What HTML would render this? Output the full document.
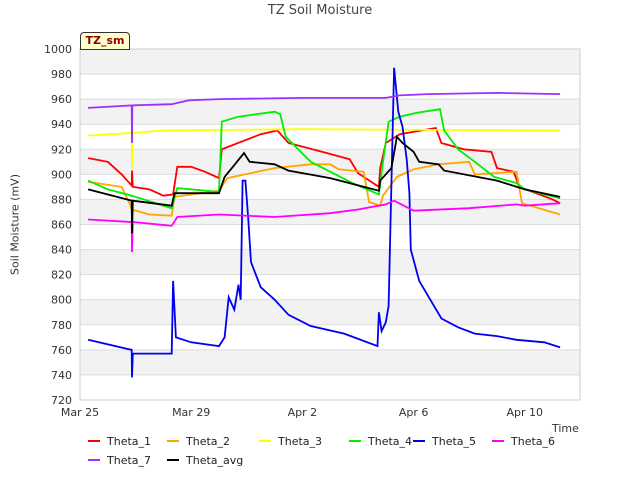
<!DOCTYPE html>
<html><head><meta charset="utf-8"><style>
body{margin:0;background:#fff;font-family:"Liberation Sans","DejaVu Sans",sans-serif}
svg text{font-family:"DejaVu Sans","Liberation Sans",sans-serif}
</style></head><body>
<svg id="c" width="640" height="480" viewBox="0 0 640 480"></svg>
<script>
const yTicks=[720,740,760,780,800,820,840,860,880,900,920,940,960,980,1000];
const xTickDays=[0,4,8,12,16];
const xTickLabels=["Mar 25","Mar 29","Apr 2","Apr 6","Apr 10"];
const seriesNames=["Theta_1","Theta_2","Theta_3","Theta_4","Theta_5","Theta_6","Theta_7","Theta_avg"];
const seriesColors=["#ff0000","#ffa500","#ffff00","#00ee00","#0000ee","#ff00ff","#9b30ff","#000000"];
const theta1=[[0.29,913],[1,910],[1.5,900],[1.86,891],[1.87,903],[1.9,890],[2.5,888],[3.0,883],[3.35,884],[3.5,906],[4,906],[4.5,902],[5.0,897],[5.1,920],[6.5,932],[7.1,935],[7.5,925],[8.7,918],[9.7,912],[10,901],[10.75,890],[10.8,905],[11.0,925],[11.5,932],[12.8,937],[13.0,925],[13.8,920],[14.8,918],[15.0,905],[15.6,902],[15.8,890],[17,880],[17.27,877]];
const theta2=[[0.29,894],[1.5,890],[1.8,876],[1.86,872],[2.5,868],[3.3,867],[3.4,882],[5,887],[5.3,897],[7,905],[8.3,908],[9.0,908],[9.3,904],[10.2,902],[10.4,878],[10.8,875],[10.9,883],[11.4,898],[12,904],[12.9,908],[14.0,910],[14.2,900],[15.7,902],[15.9,877],[17.27,868]];
const theta3=[[0.29,931],[1.86,933],[1.87,905],[1.88,933],[3,935],[8,936],[17.27,935]];
const theta4=[[0.29,895],[1,888],[1.86,883],[3.3,873],[3.5,889],[5.0,886],[5.1,942],[5.7,946],[7.0,950],[7.2,948],[7.4,930],[8.3,910],[9.8,893],[10.75,884],[10.9,910],[11.1,942],[11.5,946],[12.1,949],[12.95,952],[13.1,935],[13.6,920],[14.2,910],[14.9,898],[15.7,893],[16,888],[17.27,881]];
const theta5=[[0.29,768],[1.86,760],[1.87,738],[1.9,757],[3.3,757],[3.35,815],[3.45,770],[4,766],[5,763],[5.2,770],[5.35,802],[5.55,792],[5.7,812],[5.78,800],[5.85,895],[5.95,895],[6.05,865],[6.15,830],[6.5,810],[7,800],[7.5,788],[8.3,779],[9.5,773],[10.7,763],[10.75,790],[10.85,775],[11.0,782],[11.1,795],[11.3,985],[11.45,950],[11.6,938],[11.75,912],[11.85,885],[11.9,840],[12.2,815],[12.6,800],[13.0,785],[13.6,778],[14.2,773],[15.0,771],[15.7,768],[16.7,766],[17.27,762]];
const theta6=[[0.29,864],[1.86,862],[1.87,838],[1.9,862],[3.3,859],[3.5,866],[5,868],[7,866],[9,869],[10,872],[11,876],[11.3,879],[12.0,871],[14,873],[15.7,876],[16,875],[17.27,877]];
const theta7=[[0.29,953],[1.86,955],[1.87,925],[1.88,955],[3.3,956],[3.9,959],[5,960],[8,961],[11,961],[11.5,963],[12.5,964],[15,965],[17.27,964]];
const thetaAvg=[[0.29,888],[1.86,879],[1.87,853],[1.9,879],[3.3,875],[3.4,885],[5,885],[5.2,898],[5.5,906],[5.9,917],[6.1,910],[7,908],[7.5,903],[9,897],[10.75,887],[10.8,895],[11.2,905],[11.4,930],[11.6,925],[12.0,918],[12.2,910],[12.9,908],[13.1,903],[15.0,895],[16,888],[17.27,882]];
const allSeries=[theta1,theta2,theta3,theta4,theta5,theta6,theta7,thetaAvg];

const svg=document.getElementById('c');const NS='http://www.w3.org/2000/svg';
const L=80,R=580,T=49,B=400;
const xs=d=>L+d*27.8;
const ys=v=>B-(v-720)*(B-T)/280;
function mk(tag,attrs,parent){const e=document.createElementNS(NS,tag);for(const k in attrs)e.setAttribute(k,attrs[k]);(parent||svg).appendChild(e);return e;}
// bands
for(let i=0;i<yTicks.length-1;i++){
  if(i%2===1){const r=mk('rect',{x:L,y:ys(yTicks[i+1]),width:R-L,height:ys(yTicks[i])-ys(yTicks[i+1]),fill:'#f2f2f2'});
  
  }
}
yTicks.forEach(v=>{const g=mk('line',{x1:L,x2:R,y1:ys(v),y2:ys(v),stroke:'#dcdcdc','stroke-width':1});


const t=mk('text',{x:L-8,y:ys(v)+4,'text-anchor':'end','font-size':11,fill:'#333'});t.textContent=v;

});
const fr=mk('rect',{x:L,y:T,width:R-L,height:B-T,fill:'none',stroke:'#ccc'});


xTickDays.forEach((d,i)=>{const t=mk('text',{x:xs(d),y:B+16,'text-anchor':'middle','font-size':11,fill:'#333'});t.textContent=xTickLabels[i];

});
allSeries.forEach((s,i)=>{const p=mk('polyline',{points:s.map(q=>xs(q[0]).toFixed(1)+','+ys(q[1]).toFixed(1)).join(' '),fill:'none',stroke:seriesColors[i],'stroke-width':1.8});

});
// legend
const legPos=[[88,441],[167,441],[259,441],[349,441],[413,441],[492,441],[88,460],[167,460]];
seriesNames.forEach((n,i)=>{const [x,y]=legPos[i];const g=mk('g',{});


mk('line',{x1:x,x2:x+12,y1:y,y2:y,stroke:seriesColors[i],'stroke-width':2},g);
const t=mk('text',{x:x+19,y:y+4,'font-size':11,fill:'#222'},g);t.textContent=n;});
</script>
<div style="position:absolute;left:0;top:3px;width:640px;text-align:center;font-size:13px;color:#444;font-family:'DejaVu Sans',sans-serif">TZ Soil Moisture</div>
<div style="position:absolute;left:-40px;top:218px;width:110px;text-align:center;transform:rotate(-90deg);font-size:11px;color:#333;font-family:'DejaVu Sans',sans-serif">Soil Moisture (mV)</div>
<div style="position:absolute;left:552px;top:422px;font-size:11px;color:#333;font-family:'DejaVu Sans',sans-serif">Time</div>
<div style="position:absolute;left:80px;top:32px;width:48px;height:16px;background:#ffffcc;border:1px solid #333;border-radius:4px 4px 0 0;font-size:11px;font-weight:bold;color:#8b0000;text-align:center;line-height:16px;font-family:'DejaVu Sans',sans-serif">TZ_sm</div>
</body></html>
